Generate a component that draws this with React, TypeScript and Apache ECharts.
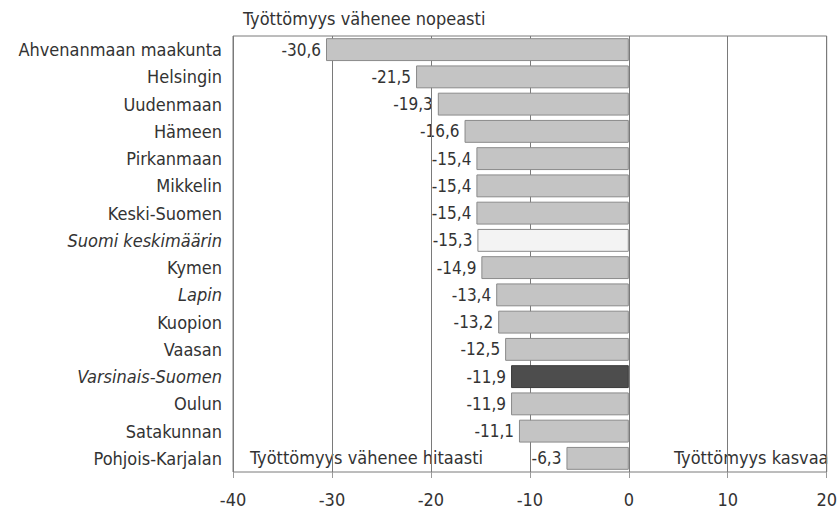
import React, { useEffect, useRef } from "react";
import * as echarts from "echarts";

const categories = [
  "Ahvenanmaan maakunta",
  "Helsingin",
  "Uudenmaan",
  "Hämeen",
  "Pirkanmaan",
  "Mikkelin",
  "Keski-Suomen",
  "Suomi keskimäärin",
  "Kymen",
  "Lapin",
  "Kuopion",
  "Vaasan",
  "Varsinais-Suomen",
  "Oulun",
  "Satakunnan",
  "Pohjois-Karjalan",
];
const values = [-30.6, -21.5, -19.3, -16.6, -15.4, -15.4, -15.4, -15.3, -14.9, -13.4, -13.2, -12.5, -11.9, -11.9, -11.1, -6.3];
const italicCategories = ["Suomi keskimäärin", "Lapin", "Varsinais-Suomen"];
const averageCategory = "Suomi keskimäärin";
const highlightCategory = "Varsinais-Suomen";
const xTicks = [-40, -30, -20, -10, 0, 10, 20];

const FONT = "DejaVu Sans Condensed";
const TEXT = "#333333";

export default function App() {
  const ref = useRef<HTMLDivElement>(null);
  useEffect(() => {
    document.body.style.margin = "0";
    if (!ref.current) return;
    const chart = echarts.init(ref.current, undefined, { renderer: "svg" });
    const fillFor = (c: string) =>
      c === averageCategory ? "#f3f3f3" : c === highlightCategory ? "#4d4d4d" : "#c4c4c4";
    chart.setOption({
      animation: false,
      backgroundColor: "#ffffff",
      grid: {
        left: 233,
        right: 10,
        top: 36,
        bottom: 35,
        show: true,
        borderColor: "#7a7a7a",
        borderWidth: 1,
        backgroundColor: "transparent",
      },
      xAxis: {
        type: "value",
        min: xTicks[0],
        max: xTicks[xTicks.length - 1],
        interval: 10,
        z: 2,
        axisLine: { show: false },
        axisTick: { show: true, length: 6, lineStyle: { color: "#9a9a9a" } },
        axisLabel: { fontFamily: FONT, fontSize: 18, color: TEXT, margin: 18 },
        splitLine: { show: true, lineStyle: { color: "#7a7a7a", width: 1 } },
      },
      yAxis: {
        type: "category",
        inverse: true,
        data: categories.map((c) => ({
          value: c,
          textStyle: { fontStyle: italicCategories.includes(c) ? "italic" : "normal" },
        })),
        axisLine: { show: false },
        axisTick: { show: false },
        axisLabel: { fontFamily: FONT, fontSize: 18, color: TEXT, margin: 11 },
        splitLine: { show: false },
      },
      graphic: [
        {
          type: "text",
          z: 0,
          left: 243,
          top: 9,
          style: { text: "Työttömyys vähenee nopeasti", font: `18px "${FONT}"`, fill: TEXT },
        },
        {
          type: "text",
          z: 0,
          left: 250,
          top: 448,
          style: { text: "Työttömyys vähenee hitaasti", font: `18px "${FONT}"`, fill: TEXT },
        },
        {
          type: "text",
          z: 0,
          left: 674,
          top: 448,
          style: { text: "Työttömyys kasvaa", font: `18px "${FONT}"`, fill: TEXT },
        },
      ],
      series: [
        {
          type: "bar",
          name: "labels",
          z: 1,
          data: values,
          barCategoryGap: "16%",
          itemStyle: { color: "transparent" },
          silent: true,
          label: {
            show: true,
            position: "left",
            distance: 5,
            fontFamily: FONT,
            fontSize: 17,
            color: TEXT,
            formatter: (p: any) => String(p.value).replace(".", ","),
          },
        },
        {
          type: "bar",
          name: "values",
          z: 3,
          barGap: "-100%",
          barCategoryGap: "16%",
          data: values.map((v, i) => ({
            value: v,
            itemStyle: {
              color: fillFor(categories[i]),
              borderColor: categories[i] === highlightCategory ? "#3a3a3a" : "#8a8a8a",
              borderWidth: 1,
            },
          })),
          label: { show: false },
        },
      ],
    });
    return () => chart.dispose();
  }, []);
  return <div ref={ref} style={{ width: 840, height: 508 }} />;
}
